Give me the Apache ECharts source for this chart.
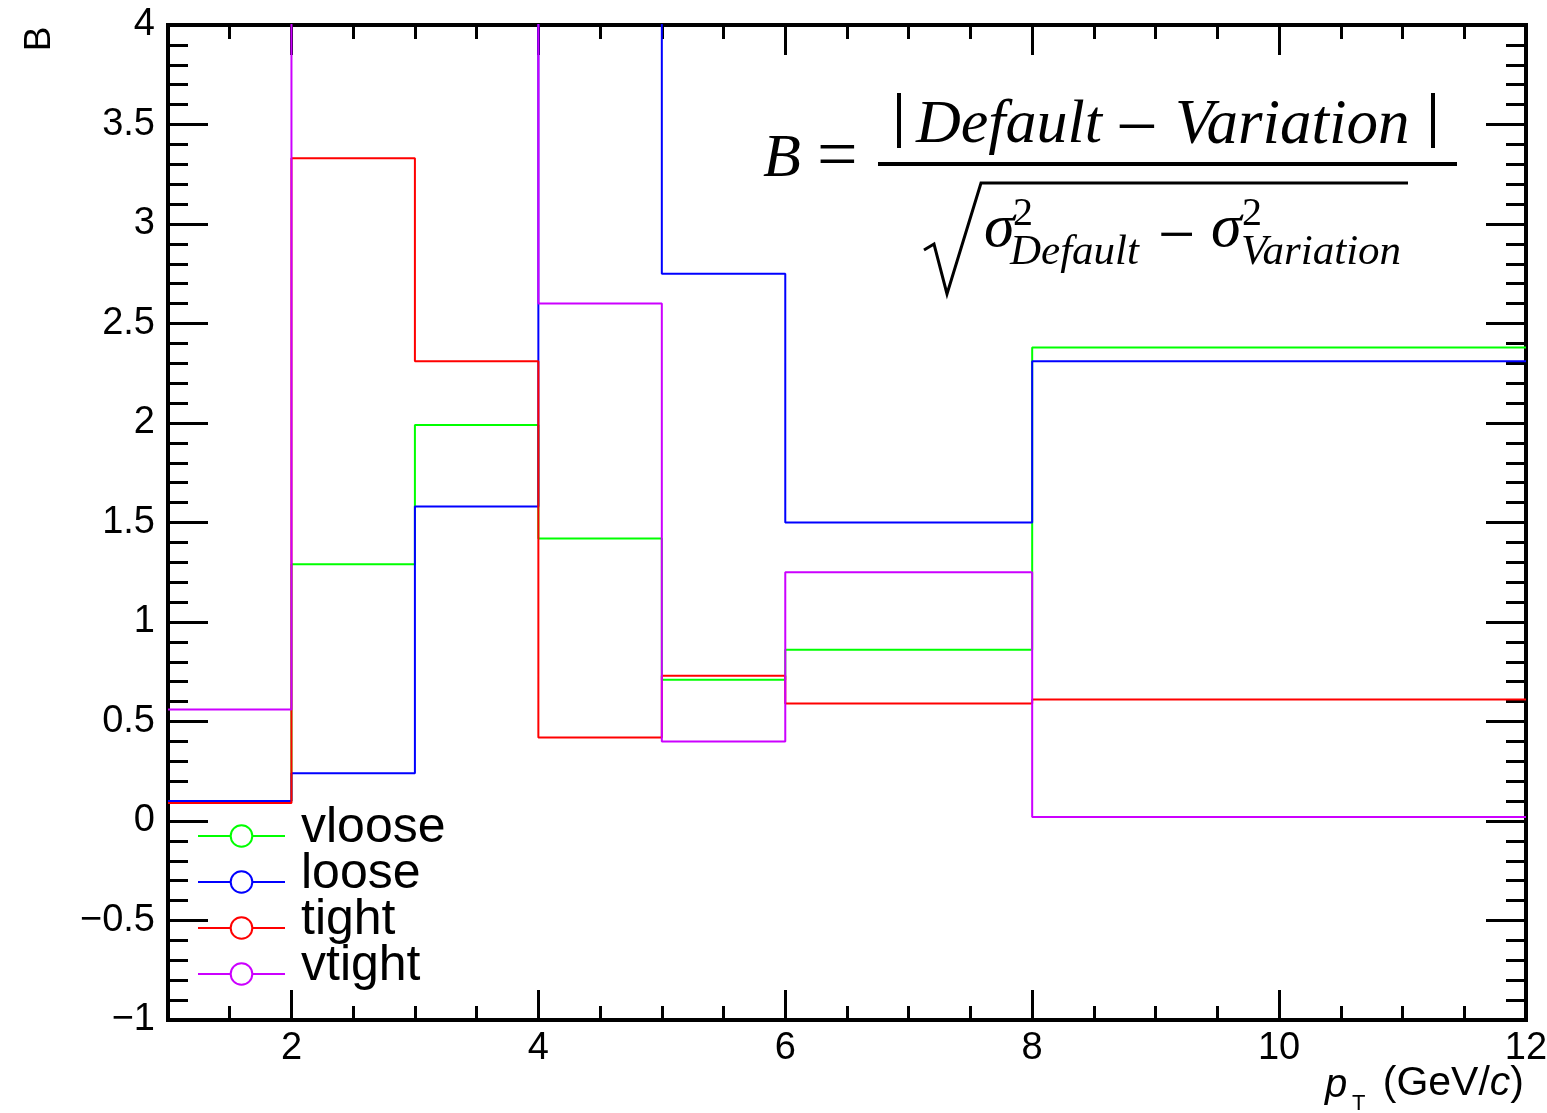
<!DOCTYPE html>
<html>
<head>
<meta charset="utf-8">
<title>B vs pT</title>
<script src="https://cdn.jsdelivr.net/npm/echarts@6/dist/echarts.min.js"></script>
<style>
  html, body { margin: 0; padding: 0; background: #fff; }
  #chart { width: 1547px; height: 1113px; }
</style>
</head>
<body>
<div id="chart"></div>
<script>
// pT bin edges (GeV/c)
const binEdges = [1, 2, 3, 4, 5, 6, 8, 12];

// B per bin for each selection variation (values above 4 run off the frame)
const vloose = [0.10, 1.29, 1.99, 1.42, 0.71, 0.86, 2.38];
const loose  = [0.10, 0.24, 1.58, 4.60, 2.75, 1.50, 2.31];
const tight  = [0.09, 3.33, 2.31, 0.42, 0.73, 0.59, 0.61];
const vtight = [0.56, 4.80, 4.50, 2.60, 0.40, 1.25, 0.02];

const seriesNames  = ['vloose', 'loose', 'tight', 'vtight'];
const seriesColors = ['#00ff00', '#0000ff', '#ff0000', '#cc00ff'];

// tick positions
const xMajorTicks = [2, 4, 6, 8, 10, 12];

// turn per-bin contents into step points: one point per lower edge plus the last upper edge
function histPoints(values) {
  const pts = values.map((v, i) => [binEdges[i], v]);
  pts.push([binEdges[binEdges.length - 1], values[values.length - 1]]);
  return pts;
}

const LABEL_FONT = 'Liberation Sans';
const MATH_FONT = 'Liberation Serif';

const fmtY = v => (v < 0 ? '\u2212' + Math.abs(v) : String(v));

const xBase = { type: 'value', min: 1, max: 12, gridIndex: 0, splitLine: { show: false } };
const yBase = { type: 'value', min: -1, max: 4, interval: 0.5, gridIndex: 0, splitLine: { show: false } };

const chart = echarts.init(document.getElementById('chart'), null, { renderer: 'canvas' });

const allSeries = [vloose, loose, tight, vtight].map((vals, i) => ({
  name: seriesNames[i],
  type: 'line',
  step: 'end',
  xAxisIndex: 0,
  yAxisIndex: 0,
  data: histPoints(vals),
  symbol: 'emptyCircle',
  showSymbol: false,
  clip: true,
  silent: true,
  animation: false,
  lineStyle: { color: seriesColors[i], width: 2 },
  itemStyle: { color: seriesColors[i] },
  z: 3 + i
}));

const math = (size, italic) => (italic ? 'italic ' : '') + size + 'px "' + MATH_FONT + '"';
const mtext = (text, x, y, size, italic, align) => ({
  type: 'text', silent: true,
  style: { text: text, x: x, y: y, font: math(size, italic), fill: '#000', textAlign: align || 'left', textVerticalAlign: 'middle' }
});

chart.setOption({
  animation: false,
  backgroundColor: '#ffffff',
  grid: {
    left: 168, right: 21, top: 25, bottom: 93,
    show: true, borderColor: '#000', borderWidth: 4, backgroundColor: 'transparent',
    outerBoundsMode: 'none'
  },
  xAxis: [
    Object.assign({}, xBase, {
      position: 'bottom',
      axisLine: { show: true, onZero: false, lineStyle: { color: '#000', width: 4 } },
      axisTick: { show: true, inside: true, length: 30, customValues: xMajorTicks, lineStyle: { color: '#000', width: 3 } },
      axisLabel: { show: true, customValues: xMajorTicks, margin: 10, fontSize: 38, fontFamily: LABEL_FONT, color: '#000' }
    }),
    Object.assign({}, xBase, {
      position: 'bottom', interval: 0.5,
      axisLine: { show: false, onZero: false },
      axisTick: { show: true, inside: true, length: 14, lineStyle: { color: '#000', width: 3 } },
      axisLabel: { show: false }
    }),
    Object.assign({}, xBase, {
      position: 'top',
      axisLine: { show: true, onZero: false, lineStyle: { color: '#000', width: 4 } },
      axisTick: { show: true, inside: true, length: 30, customValues: xMajorTicks, lineStyle: { color: '#000', width: 3 } },
      axisLabel: { show: false }
    }),
    Object.assign({}, xBase, {
      position: 'top', interval: 0.5,
      axisLine: { show: false, onZero: false },
      axisTick: { show: true, inside: true, length: 14, lineStyle: { color: '#000', width: 3 } },
      axisLabel: { show: false }
    })
  ],
  yAxis: [
    Object.assign({}, yBase, {
      position: 'left',
      axisLine: { show: true, onZero: false, lineStyle: { color: '#000', width: 4 } },
      axisTick: { show: true, inside: true, length: 40, lineStyle: { color: '#000', width: 3 } },
      minorTick: { show: true, splitNumber: 5, length: 20, lineStyle: { color: '#000', width: 3 } },
      axisLabel: { show: true, margin: 13, fontSize: 38, fontFamily: LABEL_FONT, color: '#000', formatter: fmtY }
    }),
    Object.assign({}, yBase, {
      position: 'right',
      axisLine: { show: true, onZero: false, lineStyle: { color: '#000', width: 4 } },
      axisTick: { show: true, inside: true, length: 40, lineStyle: { color: '#000', width: 3 } },
      minorTick: { show: true, splitNumber: 5, length: 20, lineStyle: { color: '#000', width: 3 } },
      axisLabel: { show: false }
    })
  ],
  legend: {
    orient: 'vertical',
    left: 197,
    top: 803,
    padding: 0,
    itemGap: -4,
    itemWidth: 87,
    itemHeight: 27,
    selectedMode: false,
    data: seriesNames,
    formatter: name => '{t|' + name + '}',
    textStyle: {
      fontSize: 50, fontFamily: LABEL_FONT, color: '#000',
      rich: { t: { fontSize: 50, fontFamily: LABEL_FONT, color: '#000', padding: [0, 0, 16, 11] } }
    }
  },
  series: allSeries,
  graphic: [
    // y-axis title
    { type: 'text', x: 40, y: 39, rotation: Math.PI / 2, silent: true,
      style: { text: 'B', font: '37px "' + LABEL_FONT + '"', fill: '#000', textAlign: 'center', textVerticalAlign: 'middle' } },
    // x-axis title: p_T (GeV/c)
    { type: 'text', silent: true,
      style: { text: 'p', x: 1325, y: 1086, font: 'italic 40px "' + LABEL_FONT + '"', fill: '#000', textAlign: 'left', textVerticalAlign: 'middle' } },
    { type: 'text', silent: true,
      style: { text: 'T', x: 1352, y: 1104, font: '22px "' + LABEL_FONT + '"', fill: '#000', textAlign: 'left', textVerticalAlign: 'middle' } },
    { type: 'text', silent: true,
      style: { text: '(GeV/{c|c})', x: 1524, y: 1084, font: '41px "' + LABEL_FONT + '"', fill: '#000', textAlign: 'right', textVerticalAlign: 'middle',
        rich: { c: { fontStyle: 'italic', fontSize: 41, fontFamily: LABEL_FONT, color: '#000' } } } },

    // formula: B = |Default - Variation| / sqrt(sigma^2_Default - sigma^2_Variation)
    mtext('B', 763, 160, 62, true),
    mtext('=', 817, 159, 72, false),
    { type: 'rect', silent: true, shape: { x: 878, y: 162, width: 579, height: 4 }, style: { fill: '#000' } },
    // numerator
    { type: 'rect', silent: true, shape: { x: 897, y: 93, width: 4, height: 55 }, style: { fill: '#000' } },
    mtext('Default', 916, 126, 62, true),
    mtext('\u2212', 1116, 132, 74, false),
    mtext('Variation', 1175, 126, 63, true),
    { type: 'rect', silent: true, shape: { x: 1431, y: 93, width: 4, height: 55 }, style: { fill: '#000' } },
    // denominator
    { type: 'polyline', silent: true,
      shape: { points: [[924, 250], [934, 244], [947, 294], [981, 183], [1408, 183]] },
      style: { stroke: '#000', lineWidth: 3, fill: null, lineJoin: 'miter' } },
    mtext('\u03c3', 984, 230, 62, true),
    mtext('2', 1013, 214, 40, false),
    mtext('Default', 1010, 253, 43, true),
    mtext('\u2212', 1158, 239, 66, false),
    mtext('\u03c3', 1211, 230, 62, true),
    mtext('2', 1242, 214, 40, false),
    mtext('Variation', 1241, 253, 43, true)
  ]
});
</script>
</body>
</html>
